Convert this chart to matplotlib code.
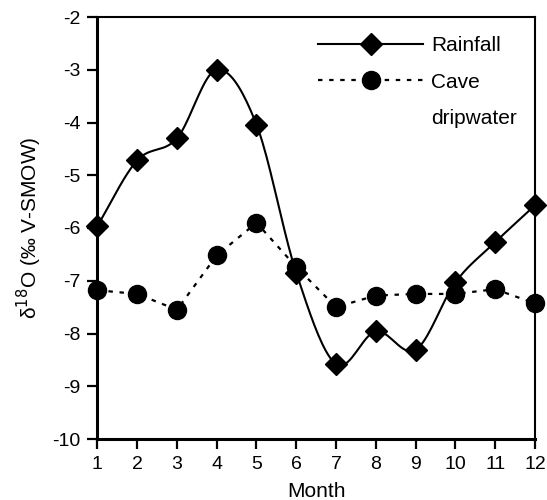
import numpy as np
import matplotlib
matplotlib.use("Agg")
import matplotlib.pyplot as plt

plt.rcParams['font.family'] = ['Liberation Sans', 'DejaVu Sans']

months = [1, 2, 3, 4, 5, 6, 7, 8, 9, 10, 11, 12]
rainfall = [-5.96, -4.72, -4.30, -3.00, -4.04, -6.85, -8.58, -7.96, -8.31, -7.03, -6.27, -5.57]
dripwater = [-7.18, -7.25, -7.55, -6.52, -5.90, -6.74, -7.50, -7.28, -7.25, -7.25, -7.16, -7.43]
xticks = list(range(1, 13))
yticks = [-2, -3, -4, -5, -6, -7, -8, -9, -10]


def smooth(x, y, n=20):
    # Catmull-Rom curve through the data points (drawing style only)
    x = np.asarray(x, float); y = np.asarray(y, float)
    px = np.concatenate([[2 * x[0] - x[1]], x, [2 * x[-1] - x[-2]]])
    py = np.concatenate([[2 * y[0] - y[1]], y, [2 * y[-1] - y[-2]]])
    xs, ys = [], []
    t = np.linspace(0, 1, n, endpoint=False)
    for i in range(1, len(px) - 2):
        for arr, out in ((px, xs), (py, ys)):
            p0, p1, p2, p3 = arr[i - 1], arr[i], arr[i + 1], arr[i + 2]
            out.extend(0.5 * ((2 * p1) + (-p0 + p2) * t + (2 * p0 - 5 * p1 + 4 * p2 - p3) * t ** 2
                              + (-p0 + 3 * p1 - 3 * p2 + p3) * t ** 3))
    xs.append(x[-1]); ys.append(y[-1])
    return np.array(xs), np.array(ys)


fig = plt.figure(figsize=(5.47, 5.0), dpi=100)
ax = fig.add_axes([0.178, 0.122, 0.800, 0.844])

dash = (0, (2.0, 3.0))
sx, sy = smooth(months, rainfall)
ax.plot(sx, sy, color='black', lw=1.5, clip_on=False)
ax.plot(months, rainfall, linestyle='none', marker='D', ms=11, color='black', clip_on=False, zorder=3)
ax.plot(months, dripwater, color='black', lw=1.6, linestyle=dash, clip_on=False)
ax.plot(months, dripwater, linestyle='none', marker='o', ms=13, color='black', clip_on=False, zorder=3)

# legend handles
h1, = ax.plot([], [], color='black', lw=1.5, marker='D', ms=11)
h2, = ax.plot([], [], color='black', lw=1.6, linestyle=dash, marker='o', ms=13)
leg = ax.legend([h1, h2], ['Rainfall', 'Cave'], loc='upper left',
                frameon=False, fontsize=15, handlelength=5.0, handletextpad=0.4,
                labelspacing=0.85, bbox_to_anchor=(0.472, 0.99), borderaxespad=0.3)

ax.set_xlim(1, 12)
ax.set_ylim(-10, -2)
ax.set_xticks(xticks)
ax.set_yticks(yticks)
ax.set_yticklabels([str(v) for v in yticks])
ax.tick_params(direction='out', length=7, width=1.6, labelsize=14, pad=5)
for s in ['left', 'bottom']:
    ax.spines[s].set_linewidth(2.2)
for s in ['top', 'right']:
    ax.spines[s].set_linewidth(1.5)

ax.set_xlabel('Month', fontsize=15, labelpad=7)
ax.set_ylabel('δ$^{18}$O (‰ V-SMOW)', fontsize=15, labelpad=6)

# second line of the "Cave dripwater" legend label
fig.canvas.draw()
bb = leg.get_texts()[1].get_window_extent()
x0, y0 = ax.transAxes.inverted().transform((bb.x0, bb.y0 - 36))
ax.text(x0, y0, 'dripwater', transform=ax.transAxes, fontsize=15, ha='left', va='bottom')

fig.savefig('out.png', dpi=100)
